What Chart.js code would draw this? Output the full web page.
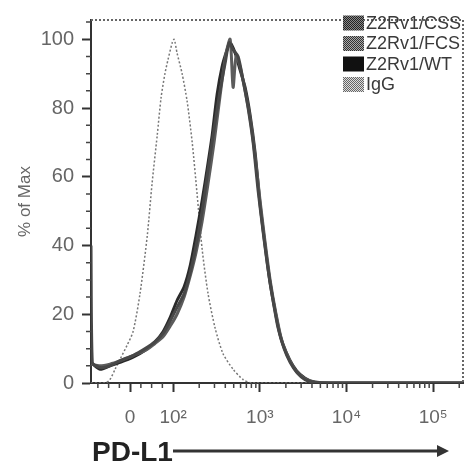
<!DOCTYPE html>
<html>
<head>
<meta charset="utf-8">
<script src="https://cdn.jsdelivr.net/npm/chart.js@4.4.0/dist/chart.umd.min.js"></script>
<style>
  html, body { margin: 0; padding: 0; background: #fff; }
  #wrap { width: 465px; height: 461px; }
</style>
</head>
<body>
<div id="wrap"><canvas id="histCanvas" width="465" height="461"></canvas></div>
<script>
const seriesLabels = ["Z2Rv1/CSS", "Z2Rv1/FCS", "Z2Rv1/WT", "IgG"];

// PD-L1 intensity (x) and % of Max (y)
const cssX = [-91, -88, -70, -47, -23, 7, 35, 58, 77, 93, 111, 134, 157, 184, 216, 253, 297, 348, 398, 443, 492, 562, 642, 733, 837, 956, 1092, 1247, 1423, 1626, 1906, 2236, 2692, 3327, 4340, 6470, 221000];
const cssY = [40, 6, 4.5, 5, 6.5, 8, 10, 12, 14.5, 18, 22, 26, 32, 40, 50, 62, 74, 85, 93, 99, 97, 95, 88, 80, 70, 56, 44, 33, 24, 16, 10, 6, 3, 1, 0.2, 0, 0];

const fcsX = [-91, -70, -47, -23, 7, 35, 58, 77, 93, 111, 134, 157, 184, 216, 253, 297, 330, 367, 409, 455, 492, 533, 593, 677, 773, 883, 1008, 1151, 1315, 1542, 1807, 2178, 2622, 3327, 4340, 6470, 221000];
const fcsY = [5.5, 5, 5.5, 6.5, 8, 9.5, 11.5, 13.5, 16.5, 20, 25, 31, 38, 47, 58, 70, 79, 88, 96, 100, 86, 95, 92, 85, 77, 66, 53, 41, 30, 20, 12, 7, 3.5, 1.2, 0.3, 0, 0];

const wtX = [-91, -70, -47, -23, 7, 35, 58, 77, 93, 111, 134, 157, 184, 216, 253, 282, 322, 367, 420, 455, 519, 593, 677, 773, 883, 1008, 1151, 1315, 1501, 1714, 2010, 2421, 2916, 3800, 4960, 221000];
const wtY = [6, 4, 5, 6, 7.5, 9.5, 12, 15, 19, 24, 28, 34, 43, 53, 64, 72, 84, 92, 97, 99, 96, 91, 86, 78, 67, 52, 40, 29, 21, 14, 9, 5, 2.5, 0.6, 0, 0];

const iggX = [-91, -58, -47, -35, -23, -7, 7, 23, 40, 51, 63, 72, 81, 88, 98, 103, 111, 127, 145, 166, 189, 216, 253, 305, 377, 492, 642, 815, 221000];
const iggY = [0, 0, 1, 4, 7, 11, 15, 26, 43, 58, 72, 83, 90, 94, 99, 100, 96, 90, 82, 70, 55, 39, 26, 16, 8.5, 4, 1, 0, 0];

const xTickValues = [0, 100, 1000, 10000, 100000];
const xTickLabels = ["0", "10\u00B2", "10\u00B3", "10\u2074", "10\u2075"];
const xLinearMinor = [-75, -50, -25, 25, 50, 75];
const yTickValues = [0, 20, 40, 60, 80, 100];

const FONT = "'Liberation Sans', Arial, sans-serif";

// biexponential-like display: linear around zero, log10 above 100
function toAxis(v) {
  if (v >= 100) return Math.log10(v);
  return 1.504 + 0.496 * v / 100;
}

function toPoints(xs, ys) {
  return xs.map((x, i) => ({ x: toAxis(x), y: ys[i] }));
}

const canvas = document.getElementById("histCanvas");
const ctx = canvas.getContext("2d");

function checker(dark, light) {
  const c = document.createElement("canvas");
  c.width = 2; c.height = 2;
  const g = c.getContext("2d");
  g.fillStyle = light; g.fillRect(0, 0, 2, 2);
  g.fillStyle = dark; g.fillRect(0, 0, 1, 1); g.fillRect(1, 1, 1, 1);
  return ctx.createPattern(c, "repeat");
}

const datasets = [
  { label: seriesLabels[0], data: toPoints(cssX, cssY), borderColor: "#474747", borderWidth: 3, legendFill: checker("#222", "#888") },
  { label: seriesLabels[1], data: toPoints(fcsX, fcsY), borderColor: "#5c5c5c", borderWidth: 3, legendFill: checker("#333", "#aaa") },
  { label: seriesLabels[2], data: toPoints(wtX, wtY), borderColor: "#2a2a2a", borderWidth: 3, legendFill: "#111" },
  { label: seriesLabels[3], data: toPoints(iggX, iggY), borderColor: "#777", borderWidth: 1.5, borderDash: [2, 2], legendFill: checker("#666", "#ddd") }
];

const extrasPlugin = {
  id: "extras",
  afterDraw(chart) {
    const c = chart.ctx;
    const area = chart.chartArea;
    const xs = chart.scales.x;
    const ys = chart.scales.y;
    c.save();

    // dotted frame on top and right
    c.strokeStyle = "#666";
    c.lineWidth = 2;
    c.setLineDash([2, 2]);
    c.beginPath();
    c.moveTo(area.left, area.top);
    c.lineTo(area.right, area.top);
    c.lineTo(area.right, area.bottom);
    c.stroke();
    c.setLineDash([]);

    // minor ticks
    c.strokeStyle = "#444";
    c.lineWidth = 1.5;
    const xMinor = xLinearMinor.slice();
    for (let n = 2; n <= 5; n++) {
      for (let k = 2; k <= 9; k++) xMinor.push(k * Math.pow(10, n));
    }
    c.beginPath();
    xMinor.forEach((v) => {
      const a = toAxis(v);
      if (a < xs.min || a > xs.max) return;
      const px = xs.getPixelForValue(a);
      c.moveTo(px, area.bottom);
      c.lineTo(px, area.bottom + 5);
    });
    for (let v = 5; v < ys.max; v += 5) {
      if (v % 20 === 0) continue;
      const py = ys.getPixelForValue(v);
      c.moveTo(area.left - 5, py);
      c.lineTo(area.left, py);
    }
    c.stroke();

    // legend
    c.font = "18px " + FONT;
    c.textBaseline = "middle";
    c.textAlign = "left";
    chart.data.datasets.forEach((ds, i) => {
      const cy = 23 + i * 20.5;
      c.fillStyle = ds.legendFill;
      c.fillRect(343, cy - 7.5, 21, 15);
      c.fillStyle = "#3a3a3a";
      c.fillText(ds.label, 366, cy + 1);
    });

    // x axis title with arrow
    c.fillStyle = "#222";
    c.font = "bold 28px " + FONT;
    c.textBaseline = "alphabetic";
    c.fillText("PD-L1", area.left + 1, 461);
    c.strokeStyle = "#333";
    c.lineWidth = 3;
    c.beginPath();
    c.moveTo(173, 451);
    c.lineTo(440, 451);
    c.stroke();
    c.fillStyle = "#333";
    c.beginPath();
    c.moveTo(449, 451);
    c.lineTo(437, 445);
    c.lineTo(437, 457);
    c.closePath();
    c.fill();

    c.restore();
  }
};

new Chart(canvas, {
  type: "line",
  data: { datasets: datasets },
  options: {
    responsive: false,
    animation: false,
    layout: { padding: { top: 8, right: 2, left: 0, bottom: 0 } },
    elements: { point: { radius: 0 }, line: { tension: 0.25 } },
    plugins: { legend: { display: false }, tooltip: { enabled: false } },
    scales: {
      x: {
        type: "linear",
        min: toAxis(-91),
        max: toAxis(221000),
        afterBuildTicks: (s) => { s.ticks = xTickValues.map((v) => ({ value: toAxis(v) })); },
        afterFit: (s) => { s.height = 78; },
        ticks: {
          autoSkip: false,
          maxRotation: 0,
          padding: 14,
          color: "#666",
          font: { family: FONT, size: 19 },
          callback: (val, i) => xTickLabels[i]
        },
        grid: { drawOnChartArea: false, tickLength: 9, tickColor: "#333", tickWidth: 2 },
        border: { color: "#333", width: 2 }
      },
      y: {
        min: 0,
        max: 105.6,
        afterBuildTicks: (s) => { s.ticks = yTickValues.map((v) => ({ value: v })); },
        afterFit: (s) => { s.width = 91; },
        ticks: {
          padding: 8,
          color: "#666",
          font: { family: FONT, size: 20 }
        },
        title: {
          display: true,
          text: "% of Max",
          color: "#666",
          font: { family: FONT, size: 17 },
          padding: { top: 15, bottom: 0 }
        },
        grid: { drawOnChartArea: false, tickLength: 9, tickColor: "#333", tickWidth: 2 },
        border: { color: "#333", width: 2 }
      }
    }
  },
  plugins: [extrasPlugin]
});
</script>
</body>
</html>
